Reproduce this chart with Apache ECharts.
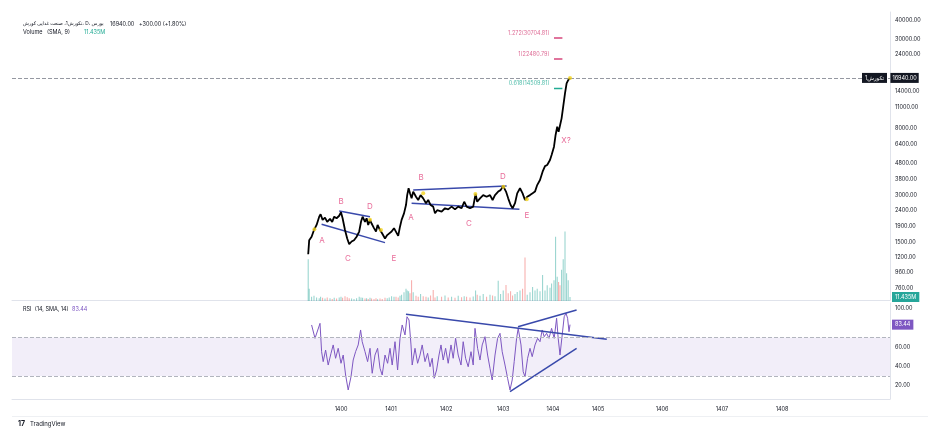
<!DOCTYPE html>
<html>
<head>
<meta charset="utf-8">
<script src="https://cdn.jsdelivr.net/npm/echarts@6/dist/echarts.min.js"></script>
<style>
  html, body { margin: 0; padding: 0; background: #fff; }
  #chart { width: 932px; height: 440px; }
</style>
</head>
<body>
<div id="chart"></div>
<script>
// trading-day index of each sample, close price, volume (millions)
const days = [1, 6, 18, 30, 43, 56, 63, 73, 85, 96,
  110, 121, 131, 143, 156, 165, 173, 185, 196, 206,
  218, 230, 243, 256, 265, 273, 285, 293, 301, 310,
  318, 330, 340, 348, 360, 371, 385, 396, 406, 418,
  430, 440, 451, 460, 468, 480, 490, 496, 503, 510,
  518, 526, 540, 551, 563, 576, 590, 601, 613, 626,
  635, 646, 668, 685, 701, 718, 735, 751, 768, 781,
  793, 810, 826, 838, 846, 860, 876, 893, 910, 923,
  935, 951, 963, 976, 990, 1001, 1013, 1023, 1035, 1046,
  1060, 1073, 1085, 1096, 1110, 1123, 1135, 1146, 1160, 1173,
  1185, 1196, 1210, 1218, 1230, 1238, 1246, 1253, 1260, 1268,
  1276, 1285, 1293, 1301, 1310]
const closes = [1250, 1540, 1620, 1790, 1930, 2180, 2260, 2080, 2150, 2020,
  2110, 2020, 2180, 2130, 2210, 2330, 2130, 1790, 1580, 1450,
  1510, 1540, 1620, 1750, 2020, 2180, 2020, 2130, 1930, 2080,
  1970, 1840, 1750, 1930, 1790, 1700, 1580, 1660, 1700, 1750,
  1840, 1790, 1640, 1880, 2080, 2290, 2590, 3000, 3320, 3080,
  2860, 3160, 2930, 2790, 3000, 2860, 2660, 2790, 2590, 2530,
  2290, 2400, 2350, 2470, 2430, 2530, 2430, 2530, 2470, 2720,
  2530, 2470, 2530, 3050, 2720, 2860, 3000, 2930, 3000, 2790,
  3000, 3160, 3230, 3430, 3160, 2860, 2590, 2470, 2660, 3080,
  3320, 3080, 2790, 2930, 3000, 3080, 3160, 3480, 3750, 4240,
  4610, 4680, 5040, 5430, 6140, 7300, 8250, 7660, 7480, 9340,
  11090, 13520, 15680, 16460, 16940]
const volumes = [120, 35, 12, 15, 10, 8, 12, 9, 7, 10,
  8, 6, 9, 7, 10, 12, 9, 14, 11, 8,
  7, 6, 8, 12, 10, 9, 7, 8, 6, 9,
  7, 6, 8, 5, 7, 6, 9, 8, 10, 14,
  12, 12, 10, 15, 18, 25, 35, 30, 28, 22,
  60, 25, 15, 12, 20, 14, 12, 10, 16, 32,
  10, 14, 12, 16, 10, 12, 9, 15, 11, 14,
  12, 10, 13, 30, 18, 15, 20, 12, 18, 16,
  14, 58, 20, 30, 46, 22, 28, 16, 20, 26,
  30, 35, 125, 18, 25, 40, 30, 35, 28, 75,
  30, 45, 38, 50, 60, 185, 70, 55, 45, 90,
  120, 200, 80, 60, 11.435]

const rsiDays = [18, 35, 60, 68, 76, 88, 101, 115, 126, 138,
  151, 165, 176, 188, 201, 215, 226, 238, 251, 263,
  271, 285, 298, 310, 321, 335, 348, 360, 371, 385,
  398, 410, 421, 435, 448, 460, 471, 485, 495, 505,
  515, 521, 535, 548, 560, 571, 585, 598, 610, 621,
  631, 643, 655, 665, 676, 688, 701, 715, 726, 738,
  751, 765, 776, 788, 801, 815, 826, 835, 848, 860,
  871, 885, 898, 910, 921, 935, 948, 960, 971, 985,
  998, 1010, 1021, 1031, 1043, 1051, 1065, 1076, 1085, 1098,
  1110, 1121, 1135, 1148, 1160, 1171, 1181, 1193, 1205, 1218,
  1231, 1243, 1251, 1260, 1271, 1281, 1290, 1298, 1305, 1310]
const rsiValues = [83.1, 69.2, 84.8, 55.3, 44.9, 57, 41.4, 53.6, 62.3, 48.4,
  58.8, 43.2, 51.8, 31, 15.4, 29.2, 46.6, 55.3, 62.3, 77.9,
  65.7, 55.3, 44.9, 58.8, 32.8, 51.8, 58.8, 38, 31, 51.8,
  43.2, 58.8, 41.4, 65.7, 36.2, 69.2, 83.1, 72.7, 91.7, 88.3,
  62.3, 41.4, 58.8, 43.2, 51.8, 62.3, 44.9, 53.6, 39.6, 48.4,
  27.6, 36.2, 51.8, 62.3, 46.6, 58.8, 43.2, 62.3, 48.4, 69.2,
  51.8, 41.4, 65.7, 48.4, 39.6, 55.3, 41.4, 79.6, 58.8, 46.6,
  62.3, 70.9, 51.8, 38, 25.8, 51.8, 69.2, 74.4, 55.3, 41.4,
  27.6, 15.4, 25.8, 44.9, 69.2, 79.6, 62.3, 34.4, 29.2, 48.4,
  58.8, 50.1, 62.3, 69.2, 65.7, 77.9, 70.9, 74.4, 69.2, 79.6,
  69.2, 90.1, 69.2, 51.8, 72.7, 91.7, 95.3, 90.1, 76.1, 83.44]

const priceTicks = [760, 960, 1200, 1500, 1900, 2400, 3000, 3800, 4800, 6400, 8000, 11000, 14000, 24000, 30000, 40000]
const rsiTicks = [20, 40, 60, 100]
const yearDays = [165, 415, 690, 975, 1225, 1450, 1770, 2070, 2370]
const yearLabels = ['1400', '1401', '1402', '1403', '1404', '1405', '1406', '1407', '1408']

const waveLabels = ['A', 'B', 'C', 'D', 'E', 'A', 'B', 'C', 'D', 'E', 'X?']
const waveDays = [70, 165, 200, 310, 430, 515, 565, 805, 975, 1095, 1290]
const wavePrices = [1540, 2710, 1180, 2520, 1180, 2140, 3870, 1960, 3920, 2230, 6680]

const pivotDays = [32, 310, 365, 576, 837, 977, 1094, 1310]
const pivotPrices = [1810, 2080, 1790, 3080, 3050, 3400, 2820, 16940]

const fibRatios = ['1.272', '1', '0.618']
const fibPrices = [30704.81, 22480.79, 14509.81]

// [day1, price1, day2, price2]
const priceTrendLines = [[156, 2370, 310, 2180], [68, 1950, 385, 1485], [526, 3230, 993, 3430], [518, 2660, 1057, 2430]]
// [day1, rsi1, day2, rsi2]
const rsiTrendLines = [[490, 94.2, 1494, 68.2], [1050, 81.3, 1343, 98.7], [1010, 13.6, 1343, 58.8]]

const lastPrice = 16940
const lastVolume = 11.435
const lastRsi = 83.44

const lg = Math.log10
const FONT = 'Inter, "DejaVu Sans", sans-serif'
const TXT = '#131722'
const BORDER = '#e0e3eb'
const PINK = '#e2477f'
const BLUE = '#3949ab'
const HIDDEN_LINE = { color: 'rgba(0,0,0,0)', width: 0 }

const chart = echarts.init(document.getElementById('chart'))

const xBase = { type: 'value', min: -1480, max: 2910, splitLine: { show: false }, axisTick: { show: false } }

const series = [
  {
    type: 'line', xAxisIndex: 0, yAxisIndex: 0, symbol: 'none', z: 5,
    lineStyle: { color: '#000', width: 1.8 },
    data: days.map((d, i) => [d, lg(closes[i])]),
    markLine: {
      silent: true, symbol: 'none',
      lineStyle: { type: 'dashed', color: '#9598a1', width: 1 },
      data: [{ yAxis: lg(lastPrice) }],
      label: {
        position: 'end', distance: 0, offset: [-28, 0],
        formatter: '{t|تکورش1} {p|' + lastPrice.toFixed(2) + '}',
        rich: {
          t: { backgroundColor: '#131722', color: '#fff', fontSize: 5.5, fontFamily: FONT, padding: [2, 3] },
          p: { backgroundColor: '#131722', color: '#fff', fontSize: 5.5, fontFamily: FONT, padding: [2, 2] }
        }
      }
    }
  },
  {
    type: 'bar', xAxisIndex: 1, yAxisIndex: 1, barWidth: 1,
    data: days.map((d, i) => ({
      value: [d, volumes[i]],
      itemStyle: { color: i > 0 && closes[i] < closes[i - 1] ? 'rgba(239,83,80,0.5)' : 'rgba(38,166,154,0.5)' }
    })),
    markLine: {
      silent: true, symbol: 'none',
      lineStyle: HIDDEN_LINE,
      data: [{ yAxis: lastVolume }],
      label: {
        position: 'end', distance: 2, formatter: '11.435M',
        backgroundColor: '#26a69a', color: '#fff', fontSize: 5.5, fontFamily: FONT, padding: [2, 3]
      }
    }
  },
  {
    type: 'line', xAxisIndex: 2, yAxisIndex: 2, symbol: 'none',
    lineStyle: { color: '#7e57c2', width: 1 },
    data: rsiDays.map((d, i) => [d, rsiValues[i]]),
    markArea: { silent: true, itemStyle: { color: 'rgba(126,87,194,0.1)' }, data: [[{ yAxis: 30 }, { yAxis: 70 }]] },
    markLine: {
      silent: true, symbol: 'none',
      data: [
        { yAxis: 70, lineStyle: { type: 'dashed', color: '#b2b5be', width: 1 }, label: { show: false } },
        { yAxis: 30, lineStyle: { type: 'dashed', color: '#b2b5be', width: 1 }, label: { show: false } },
        {
          yAxis: lastRsi, lineStyle: HIDDEN_LINE,
          label: {
            position: 'end', distance: 2, formatter: lastRsi.toFixed(2),
            backgroundColor: '#7e57c2', color: '#fff', fontSize: 5.5, fontFamily: FONT, padding: [2, 3]
          }
        }
      ]
    }
  },
  {
    type: 'scatter', xAxisIndex: 0, yAxisIndex: 0, symbolSize: 4, z: 6,
    itemStyle: { color: '#f2d21b' },
    data: pivotDays.map((d, i) => [d, lg(pivotPrices[i])])
  },
  {
    type: 'scatter', xAxisIndex: 0, yAxisIndex: 0, symbolSize: 1, z: 6,
    itemStyle: { color: 'transparent' },
    label: {
      show: true, position: 'inside', color: PINK, fontSize: 8, fontFamily: FONT,
      formatter: p => waveLabels[p.dataIndex]
    },
    data: waveDays.map((d, i) => [d, lg(wavePrices[i])])
  },
  {
    type: 'scatter', xAxisIndex: 0, yAxisIndex: 0, symbolSize: 1,
    itemStyle: { color: 'transparent' },
    label: {
      show: true, position: 'left', distance: 4, offset: [0, -5], fontSize: 5.5, fontFamily: FONT,
      formatter: p => fibRatios[p.dataIndex] + '(' + fibPrices[p.dataIndex].toFixed(2) + ')',
      color: '#d6467b'
    },
    data: fibPrices.map((v, i) => ({
      value: [1230, lg(v)],
      label: i === 2 ? { color: '#22ab94' } : {}
    }))
  }
]

fibPrices.forEach((v, i) => {
  series.push({
    type: 'line', xAxisIndex: 0, yAxisIndex: 0, symbol: 'none', silent: true,
    lineStyle: { color: i === 2 ? '#22ab94' : '#d6467b', width: 1.5 },
    data: [[1230, lg(v)], [1272, lg(v)]]
  })
})

priceTrendLines.forEach(l => {
  series.push({
    type: 'line', xAxisIndex: 0, yAxisIndex: 0, symbol: 'none', silent: true, z: 4,
    lineStyle: { color: BLUE, width: 1.5 },
    data: [[l[0], lg(l[1])], [l[2], lg(l[3])]]
  })
})

rsiTrendLines.forEach(l => {
  series.push({
    type: 'line', xAxisIndex: 2, yAxisIndex: 2, symbol: 'none', silent: true,
    lineStyle: { color: BLUE, width: 1.5 },
    data: [[l[0], l[1]], [l[2], l[3]]]
  })
})

const option = {
  backgroundColor: '#fff',
  animation: false,
  textStyle: { fontFamily: FONT },
  grid: [
    { left: 12, right: 42, top: 12, height: 288 },
    { left: 12, right: 42, top: 228, height: 73 },
    { left: 12, right: 42, top: 303, height: 96 }
  ],
  xAxis: [
    Object.assign({ gridIndex: 0, axisLine: { show: true, onZero: false, lineStyle: { color: BORDER } }, axisLabel: { show: false } }, xBase),
    Object.assign({ gridIndex: 1, show: false }, xBase),
    Object.assign({
      gridIndex: 2,
      axisLine: { show: true, onZero: false, lineStyle: { color: BORDER } },
      axisLabel: {
        customValues: yearDays, color: TXT, fontSize: 5.5, margin: 7,
        formatter: v => yearLabels[yearDays.indexOf(v)]
      }
    }, xBase)
  ],
  yAxis: [
    {
      gridIndex: 0, type: 'value', position: 'right', min: 2.8032, max: 4.6535,
      splitLine: { show: false }, axisTick: { show: false },
      axisLine: { show: true, onZero: false, lineStyle: { color: BORDER } },
      axisLabel: {
        customValues: priceTicks.map(lg), color: TXT, fontSize: 5.5, margin: 5,
        formatter: v => Math.pow(10, v).toFixed(2)
      }
    },
    { gridIndex: 1, type: 'value', min: 0, max: 210, show: false },
    {
      gridIndex: 2, type: 'value', position: 'right', min: 6, max: 106,
      splitLine: { show: false }, axisTick: { show: false },
      axisLine: { show: true, onZero: false, lineStyle: { color: BORDER } },
      axisLabel: {
        customValues: rsiTicks, color: TXT, fontSize: 5.5, margin: 5,
        formatter: v => v.toFixed(2)
      }
    }
  ],
  graphic: [
    { type: 'text', x: 23, y: 24, style: { text: 'تکورش1، صنعت غذایی کورش، D، بورس', fill: TXT, font: '4.8px ' + FONT, verticalAlign: 'middle' } },
    { type: 'text', x: 110, y: 24, style: { text: '16940.00   +300.00 (+1.80%)', fill: TXT, font: '5.5px ' + FONT, verticalAlign: 'middle' } },
    { type: 'text', x: 23, y: 32, style: { text: 'Volume   (SMA, 9)', fill: TXT, font: '5.5px ' + FONT, verticalAlign: 'middle' } },
    { type: 'text', x: 84, y: 32, style: { text: '11.435M', fill: '#22ab94', font: '5.5px ' + FONT, verticalAlign: 'middle' } },
    { type: 'text', x: 23, y: 309, style: { text: 'RSI  (14, SMA, 14)', fill: TXT, font: '5.5px ' + FONT, verticalAlign: 'middle' } },
    { type: 'text', x: 72, y: 309, style: { text: '83.44', fill: '#7e57c2', font: '5.5px ' + FONT, verticalAlign: 'middle' } },
    { type: 'rect', shape: { x: 12, y: 416, width: 916, height: 1 }, style: { fill: '#eef0f3' } },
    { type: 'text', x: 18, y: 424, style: { text: '17', fill: '#131722', font: 'bold 7px ' + FONT, verticalAlign: 'middle' } },
    { type: 'text', x: 30, y: 424, style: { text: 'TradingView', fill: '#131722', font: '6px ' + FONT, verticalAlign: 'middle' } }
  ],
  series: series
}

chart.setOption(option)
</script>
</body>
</html>
